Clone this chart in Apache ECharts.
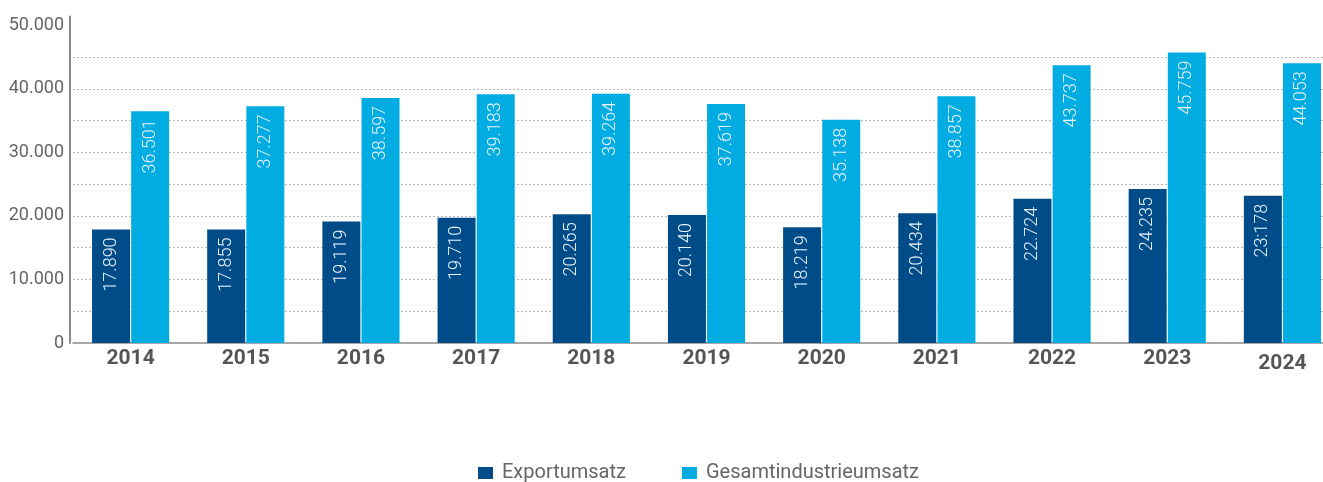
<!DOCTYPE html>
<html><head><meta charset="utf-8">
<script src="https://cdn.jsdelivr.net/npm/echarts@6/dist/echarts.min.js"></script>
<style>html,body{margin:0;padding:0;background:#fff;overflow:hidden}#c{width:1340px;height:482px}</style>
</head><body><div id="c"></div>
<script>
const years = ['2014','2015','2016','2017','2018','2019','2020','2021','2022','2023','2024'];
const exportValues = [17890,17855,19119,19710,20265,20140,18219,20434,22724,24235,23178];
const totalValues = [36501,37277,38597,39183,39264,37619,35138,38857,43737,45759,44053];
const gridValues = [5000,10000,15000,20000,25000,30000,35000,40000,45000];
const seriesNames = ['Exportumsatz','Gesamtindustrieumsatz'];
const labelOverrides = {'2024-0':'23:178'};

const fmt = v => String(v).replace(/\B(?=(\d{3})+(?!\d))/g, '.');
const FONT = 'Roboto, "Noto Sans", sans-serif';
const chart = echarts.init(document.getElementById('c'));
const lbl = {show:true, position:'insideTop', rotate:90, align:'right', verticalAlign:'middle',
  distance:8, color:'#e8f3fb', fontSize:18, fontFamily:FONT, fontWeight:300};
function mk(vals, si){
  return vals.map((v,i)=>{
    const key = years[i]+'-'+si;
    return {value:v, label:{formatter: labelOverrides[key] || fmt(v)}};
  });
}
chart.setOption({
  animation:false,
  textStyle:{fontFamily:FONT},
  grid:{left:73, right:0, top:16.6, bottom:139, containLabel:false},
  legend:{left:473, top:458, itemWidth:15, itemHeight:12, itemGap:56, icon:'rect',
    textStyle:{fontSize:20, color:'#666', fontFamily:FONT, padding:[0,0,0,4]},
    data:seriesNames},
  xAxis:{type:'category', data:years,
    axisLine:{lineStyle:{color:'#8c8c8c', width:1.5}}, axisTick:{show:false},
    axisLabel:{interval:0, margin:5, fontSize:21, fontWeight:'bold', color:'#555', fontFamily:FONT,
      formatter: v => v==='2024' ? '{low|'+v+'}' : v,
      rich:{low:{fontSize:21, fontWeight:'bold', color:'#555', fontFamily:FONT, padding:[5,0,0,0]}}}},
  yAxis:{type:'value', min:0, max:51400, interval:10000, offset:3,
    axisLine:{show:true, lineStyle:{color:'#8c8c8c', width:2}}, axisTick:{show:false},
    splitLine:{show:false},
    axisLabel:{margin:6, fontSize:18, color:'#666', fontFamily:FONT,
      formatter: v => (v % 10000 === 0 ? fmt(v) : '')}},
  series:[
    {name:seriesNames[0], type:'bar', data:mk(exportValues,0), barWidth:38, barGap:'3%',
     itemStyle:{color:'#004c89'}, label:lbl, z:3,
     markLine:{silent:true, symbol:'none', label:{show:false},
       lineStyle:{type:[2,2], color:'#b8b8b8', width:1},
       data:gridValues.map(v=>({yAxis:v})), z:1}},
    {name:seriesNames[1], type:'bar', data:mk(totalValues,1), barWidth:38, barGap:'3%',
     itemStyle:{color:'#00ace2'}, label:lbl, z:3}
  ]
});
</script></body></html>
